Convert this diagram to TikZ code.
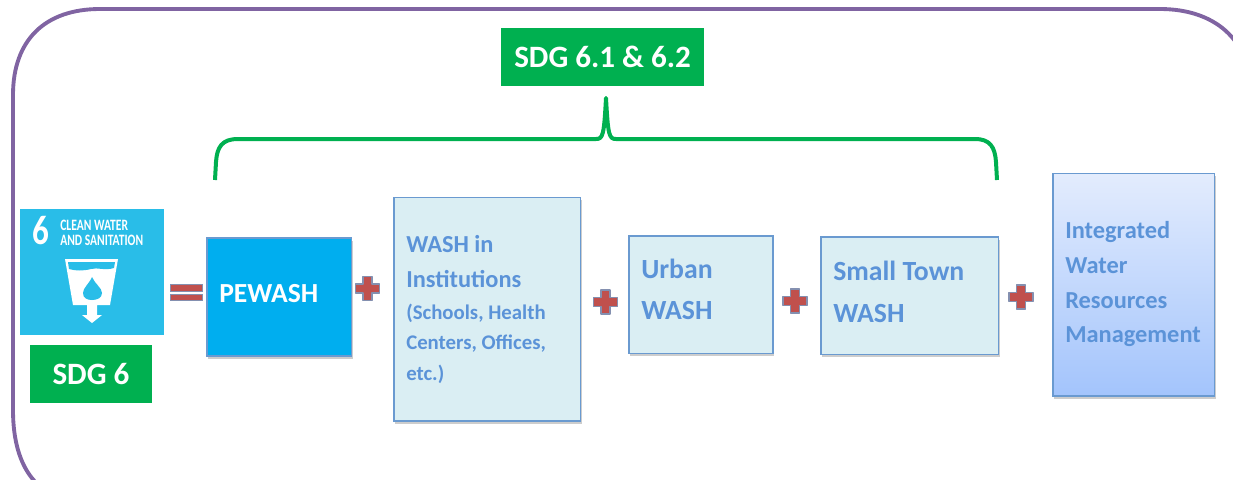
\documentclass[tikz,border=0pt]{standalone}
\usepackage{fontspec}
\setmainfont{Carlito}
\usetikzlibrary{shadows}
\definecolor{frameP}{HTML}{8064A2}
\definecolor{sdgG}{HTML}{00B050}
\definecolor{sdgB}{HTML}{29BDE8}
\definecolor{peB}{HTML}{00AEEF}
\definecolor{lightB}{HTML}{DAEEF3}
\definecolor{edgeB}{HTML}{6A9AD0}
\definecolor{txtB}{HTML}{5B93D8}
\definecolor{plusR}{HTML}{C0504D}
\definecolor{plusE}{HTML}{8490B0}
\definecolor{gradTop}{HTML}{E3ECFD}
\definecolor{gradBot}{HTML}{A3C4FC}
\tikzset{
  x=0.75pt,y=-0.75pt,
  softshadow/.style={drop shadow={shadow xshift=0.9pt,shadow yshift=-2pt,opacity=.28,fill=black!70}},
  boxbase/.style={anchor=north west,inner sep=0pt,outer sep=0pt,line width=1.1pt,draw=edgeB,softshadow},
  lightbox/.style={boxbase,fill=lightB},
  greenbox/.style={anchor=north west,inner sep=0pt,fill=sdgG,text=white,font=\bfseries\fontsize{23.3}{23.3}\selectfont,align=center},
  bluelabel/.style={anchor=base west,inner sep=0pt,text=txtB,font=\bfseries\fontsize{18.3}{18.3}\selectfont},
  biglabel/.style={anchor=base west,inner sep=0pt,text=txtB,font=\bfseries\fontsize{20.8}{20.8}\selectfont},
  smalllabel/.style={anchor=base west,inner sep=0pt,text=txtB,font=\bfseries\fontsize{15.6}{15.6}\selectfont},
  plusshape/.style={fill=plusR,draw=plusE,line width=0.8pt,line join=round},
  eqbar/.style={anchor=north west,inner sep=0pt,minimum width=24.5pt,minimum height=5pt,fill=plusR,draw=plusE,line width=0.8pt},
}
\newcommand{\plusat}[2]{\draw[plusshape,shift={(#1,#2)}] (-4.5,-12)--(4.5,-12)--(4.5,-4.5)--(12,-4.5)--(12,4.5)--(4.5,4.5)--(4.5,12)--(-4.5,12)--(-4.5,4.5)--(-12,4.5)--(-12,-4.5)--(-4.5,-4.5)--cycle;}
\begin{document}
\begin{tikzpicture}
\useasboundingbox (0,0) rectangle (1233,479);
\begin{scope}
\clip (0,0) rectangle (1233,479);
\draw[frameP,line width=2.9pt] (13,95) .. controls (13,40) and (45,9) .. (100,9) -- (1160,9) .. controls (1215,9) and (1250,40) .. (1250,90) -- (1250,500) -- (80,500) .. controls (40,500) and (13,470) .. (13,410) -- cycle;
\end{scope}
% SDG tile
\node[anchor=north west,inner sep=0pt,minimum width=108.5pt,minimum height=94pt,fill=sdgB] (tile) at (19.5,209) {};
\node[anchor=center,inner sep=0pt,text=white,font=\bfseries\fontsize{31}{31}\selectfont] (six) at (41,231) {\scalebox{.8}[1]{6}};
\node[anchor=base west,inner sep=0pt,text=white,font=\bfseries\fontsize{11.9}{11.9}\selectfont] (cleanA) at (60,230) {\scalebox{.73}[1]{CLEAN WATER}};
\node[anchor=base west,inner sep=0pt,text=white,font=\bfseries\fontsize{11.9}{11.9}\selectfont] (cleanB) at (60,245) {\scalebox{.73}[1]{AND SANITATION}};
\fill[white] (65,259) -- (118,259) -- (110,305) -- (97,305) -- (97,315) -- (102,315) -- (92,323) -- (82,315) -- (87,315) -- (87,305) -- (73,305) -- cycle;
\fill[sdgB] (68,262) -- (115,262) -- (114,268) .. controls (104,271) and (98,267) .. (91,269) .. controls (83,271) and (76,271) .. (69,269) -- cycle;
\fill[sdgB] (92,277) .. controls (95,284) and (102,288) .. (102,293) .. controls (102,298) and (97,300) .. (92,300) .. controls (87,300) and (83,298) .. (83,293) .. controls (83,288) and (89,284) .. (92,277) -- cycle;
% Green boxes
\node[greenbox,minimum width=91pt,minimum height=43.5pt] (sdgsix) at (30,344.5) {SDG 6};
\node[greenbox,minimum width=152pt,minimum height=43.5pt] (sdgtop) at (501,28) {SDG 6.1 \& 6.2};
% Equals
\node[eqbar] (eqa) at (169.5,284.3) {};
\node[eqbar] (eqb) at (169.5,293.5) {};
% Boxes
\node[boxbase,fill=peB,minimum width=108.5pt,minimum height=88.5pt] (pewash) at (207,238) {};
\node[anchor=base west,inner sep=0pt,text=white,font=\bfseries\fontsize{20.7}{20.7}\selectfont] (pewasht) at (219,302) {PEWASH};
\node[lightbox,minimum width=140pt,minimum height=167.5pt] (inst) at (394,197.5) {};
\node[bluelabel] (i1) at (406,252) {WASH in};
\node[bluelabel] (i2) at (406,287) {Institutions};
\node[smalllabel] (i3) at (406,319) {(Schools, Health};
\node[smalllabel] (i4) at (406,349) {Centers, Offices,};
\node[smalllabel] (i5) at (406,380) {etc.)};
\node[lightbox,minimum width=108pt,minimum height=88pt] (urban) at (629,236) {};
\node[biglabel] (u1) at (641,278) {Urban};
\node[biglabel] (u2) at (641,319) {WASH};
\node[lightbox,minimum width=133pt,minimum height=88pt] (town) at (821,237) {};
\node[biglabel] (t1) at (833,280) {Small Town};
\node[biglabel] (t2) at (833,322) {WASH};
\node[boxbase,top color=gradTop,bottom color=gradBot,minimum width=121pt,minimum height=167pt] (iwrm) at (1053,173.5) {};
\node[bluelabel] (w1) at (1065,238) {Integrated};
\node[bluelabel] (w2) at (1065,273) {Water};
\node[bluelabel] (w3) at (1065,308) {Resources};
\node[bluelabel] (w4) at (1065,342) {Management};
% Plus signs
\plusat{367.5}{288.5}
\plusat{605.5}{302}
\plusat{795}{301}
\plusat{1021}{297}
% Brace
\draw[sdgG,line width=3pt,line cap=butt,line join=round] (215,180) -- (216,162) .. controls (217,147) and (222,139) .. (238,139) -- (596,139) .. controls (603,139) and (604,135) .. (606,98) .. controls (608,135) and (609,139) .. (616,139) -- (975,139) .. controls (990,139) and (995,147) .. (996,162) -- (997,180);
\end{tikzpicture}
\end{document}
